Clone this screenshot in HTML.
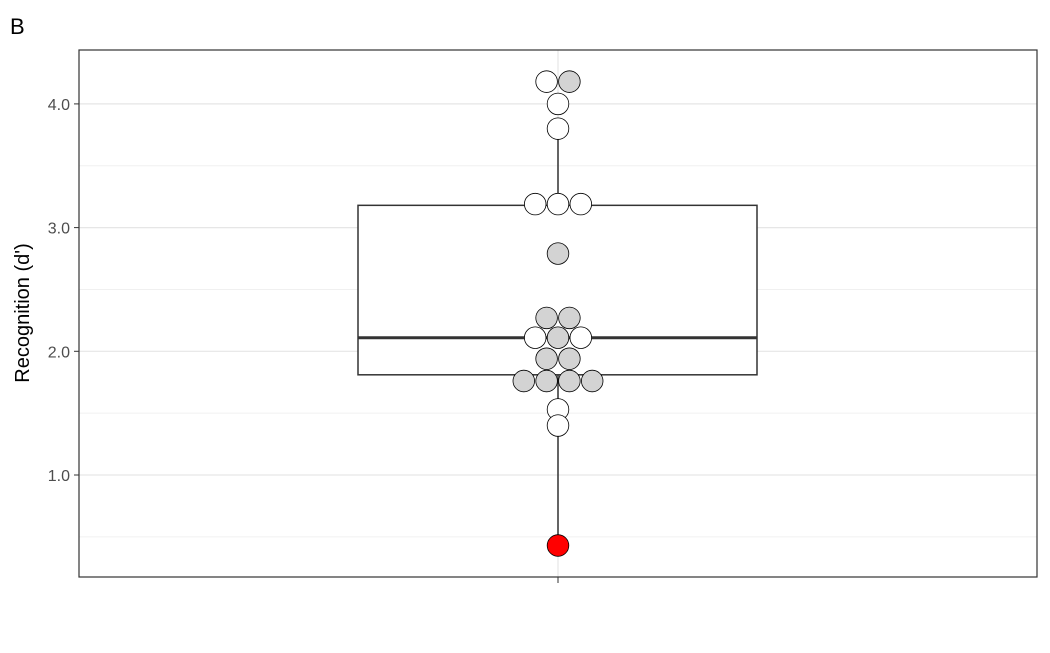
<!DOCTYPE html>
<html><head><meta charset="utf-8"><style>
body{margin:0;background:#fff;font-family:"Liberation Sans",Arial,sans-serif;}
</style></head><body>
<svg id="chart" width="1050" height="648" xmlns="http://www.w3.org/2000/svg">
<text x="10" y="34" font-size="22" fill="#000">B</text>
<g id="grid"></g>
<g id="plot"></g>
<rect x="79" y="50" width="958" height="527" fill="none" stroke="#333" stroke-width="1.2"/>
<text transform="translate(29,313) rotate(-90)" text-anchor="middle" font-size="20" fill="#000">Recognition (d')</text>
</svg>
<script>
const yTicks=[1.0,2.0,3.0,4.0];
const yTickLabels=["1.0","2.0","3.0","4.0"];
const yMinor=[0.5,1.5,2.5,3.5];
const boxStats={lower:0.43,q1:1.81,median:2.11,q3:3.18,upper:3.80};
const pointValues=[4.18,4.18,4.0,3.8,3.19,3.19,3.19,2.79,2.27,2.27,2.11,2.11,2.11,1.94,1.94,1.76,1.76,1.76,1.76,1.53,1.40,0.43];
const pointGroups=["w","g","w","w","w","w","w","g","g","g","w","g","w","g","g","g","g","g","g","w","w","r"];
const NS="http://www.w3.org/2000/svg";
const left=79,right=1037,cx=558;
function y(v){return 475-(v-1)*123.7;}
function el(t,a,p){const e=document.createElementNS(NS,t);for(const k in a)e.setAttribute(k,a[k]);p.appendChild(e);return e;}
const grid=document.getElementById('grid'),plot=document.getElementById('plot'),svg=document.getElementById('chart');
yMinor.forEach(v=>{const l=el('line',{x1:left,x2:right,y1:y(v),y2:y(v),stroke:'#f0f0f0','stroke-width':1},grid);

});
yTicks.forEach((v,i)=>{const l=el('line',{x1:left,x2:right,y1:y(v),y2:y(v),stroke:'#e6e6e6','stroke-width':1.2},grid);


const t=el('line',{x1:left-5,x2:left,y1:y(v),y2:y(v),stroke:'#333'},svg);


const tx=el('text',{x:left-9,y:y(v)+6,'text-anchor':'end','font-size':16,fill:'#4d4d4d'},svg);tx.textContent=yTickLabels[i];

});
const vg=el('line',{x1:cx,x2:cx,y1:50,y2:577,stroke:'#e6e6e6','stroke-width':1.2},grid);


const xt=el('line',{x1:cx,x2:cx,y1:577,y2:583,stroke:'#333'},svg);


// box
const w1=el('line',{x1:cx,x2:cx,y1:y(boxStats.q3),y2:y(boxStats.upper),stroke:'#333','stroke-width':1.5},plot);


const w2=el('line',{x1:cx,x2:cx,y1:y(boxStats.q1),y2:y(boxStats.lower),stroke:'#333','stroke-width':1.5},plot);


const bx=el('rect',{x:358,y:y(boxStats.q3),width:399,height:y(boxStats.q1)-y(boxStats.q3),fill:'#fff',stroke:'#333','stroke-width':1.5},plot);


const md=el('line',{x1:358,x2:757,y1:y(boxStats.median),y2:y(boxStats.median),stroke:'#333','stroke-width':3},plot);


// dots: stack points with equal value, centered
const fills={w:'#fff',g:'#d3d3d3',r:'#ff0000'};
const groups={};pointValues.forEach((v,i)=>{(groups[v]=groups[v]||[]).push(i);});
Object.keys(groups).forEach(k=>{const idx=groups[k];const n=idx.length;
idx.forEach((i,j)=>{const off=(j-(n-1)/2)*22.8;
const c=el('circle',{cx:cx+off,cy:y(pointValues[i]),r:10.8,fill:fills[pointGroups[i]],stroke:'#000','stroke-width':0.8},plot);

});});
</script>
</body></html>
